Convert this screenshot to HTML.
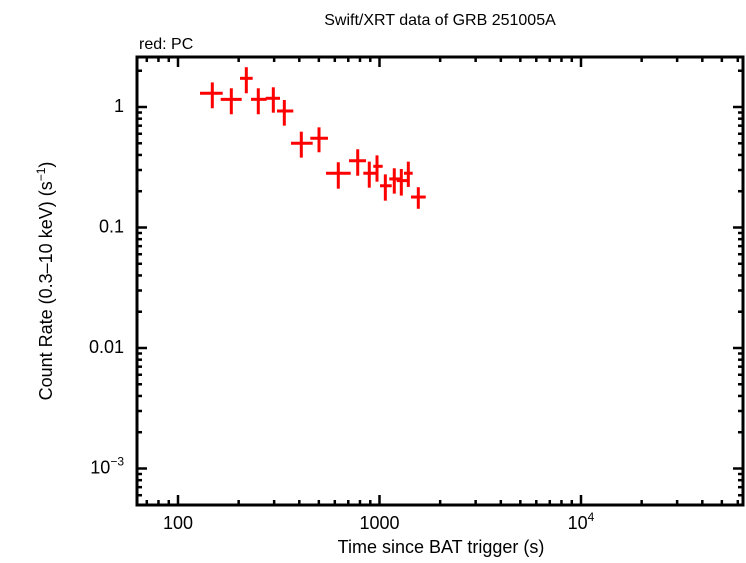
<!DOCTYPE html>
<html><head><meta charset="utf-8"><style>
body{margin:0;background:#fff;width:746px;height:558px;overflow:hidden}
svg text{font-family:"Liberation Sans",sans-serif;fill:#000}
</style></head><body>
<svg id="chart" width="746" height="558">
<text x="440" y="25" font-size="16" text-anchor="middle">Swift/XRT data of GRB 251005A</text>
<text x="139" y="49" font-size="16">red: PC</text>
<text x="441" y="553" font-size="18" text-anchor="middle">Time since BAT trigger (s)</text>
<text transform="translate(52,281) rotate(-90)" font-size="18" text-anchor="middle">Count Rate (0.3–10 keV) (s<tspan dy="-7" font-size="12">−1</tspan><tspan dy="7">)</tspan></text>
<g id="axes"></g><g id="marks"></g>
<rect x="137" y="57" width="606" height="448" fill="none" stroke="#000" stroke-width="3"/>
</svg>
<script>
const times=[148,183.9,218.3,250.3,297.2,337,409.2,501,624.5,779.6,889.8,972,1069,1184,1283,1390,1558];
const timeLo=[128.6,162.9,203.1,230.3,272.4,309.9,363.8,453.6,542.7,705.9,831,931.6,1006,1118,1217,1323,1433];
const timeHi=[166.7,207.1,234.8,275.5,320.8,373.4,466.2,555,719.5,857,975,1037,1150,1264,1406,1461,1696];
const rates=[1.30,1.158,1.73,1.158,1.181,0.926,0.500,0.550,0.282,0.358,0.282,0.322,0.222,0.253,0.245,0.282,0.179];
const rateLo=[0.976,0.870,1.30,0.870,0.897,0.700,0.380,0.421,0.210,0.269,0.214,0.240,0.167,0.191,0.184,0.217,0.143];
const rateHi=[1.60,1.43,2.14,1.43,1.457,1.143,0.624,0.678,0.348,0.446,0.352,0.397,0.276,0.310,0.306,0.352,0.216];
const xTickVals=[100,1000,10000];
const xTickLabels=["100","1000","10^4"];
const yTickVals=[1,0.1,0.01,0.001];
const yTickLabels=["1","0.1","0.01","10^-3"];
const L=137,R=743,T=57,B=505;
const xs=v=>178+(Math.log10(v)-2)*201.5;
const ys=v=>107-Math.log10(v)*120.5;
const NS="http://www.w3.org/2000/svg";
const ax=document.getElementById('axes'),mk=document.getElementById('marks');
function line(p,x1,y1,x2,y2,c,w){const l=document.createElementNS(NS,'line');l.setAttribute('x1',x1);l.setAttribute('y1',y1);l.setAttribute('x2',x2);l.setAttribute('y2',y2);l.setAttribute('stroke',c);l.setAttribute('stroke-width',w);p.appendChild(l);return l;}
function txt(x,y,s,anchor){const t=document.createElementNS(NS,'text');t.setAttribute('x',x);t.setAttribute('y',y);t.setAttribute('font-size','18');t.setAttribute('text-anchor',anchor);
 const m=s.match(/^10\^(.*)$/);
 if(m){t.textContent='10';const sp=document.createElementNS(NS,'tspan');sp.setAttribute('dy','-8');sp.setAttribute('font-size','12');sp.textContent=m[1].replace('-','−');t.appendChild(sp);}
 else t.textContent=s;
 ax.appendChild(t);return t;}
for(let d=10;d<=100000;d*=10){for(let k=1;k<10;k++){const v=d*k,x=xs(v);if(x<L||x>R)continue;const len=k===1?10:5;
 const a=line(ax,x,B,x,B-len,'#000',2.5);
 const b=line(ax,x,T,x,T+len,'#000',2.5);}}
for(let d=0.0001;d<=10;d*=10){for(let k=1;k<10;k++){const v=d*k,y=ys(v);if(y<T||y>B)continue;const len=k===1?10:5;
 const a=line(ax,L,y,L+len,y,'#000',2.5);
 const b=line(ax,R,y,R-len,y,'#000',2.5);}}
xTickVals.forEach((v,i)=>{const t=txt(xs(v),529,xTickLabels[i],'middle');
 
 });
yTickVals.forEach((v,i)=>{const t=txt(124,ys(v)+5,yTickLabels[i],'end');
 
 });
times.forEach((t,i)=>{const g=document.createElementNS(NS,'g');
 
 
 line(g,xs(timeLo[i]),ys(rates[i]),xs(timeHi[i]),ys(rates[i]),'#f00',3);
 line(g,xs(t),ys(rateLo[i]),xs(t),ys(rateHi[i]),'#f00',3);
 mk.appendChild(g);});
</script>
</body></html>
